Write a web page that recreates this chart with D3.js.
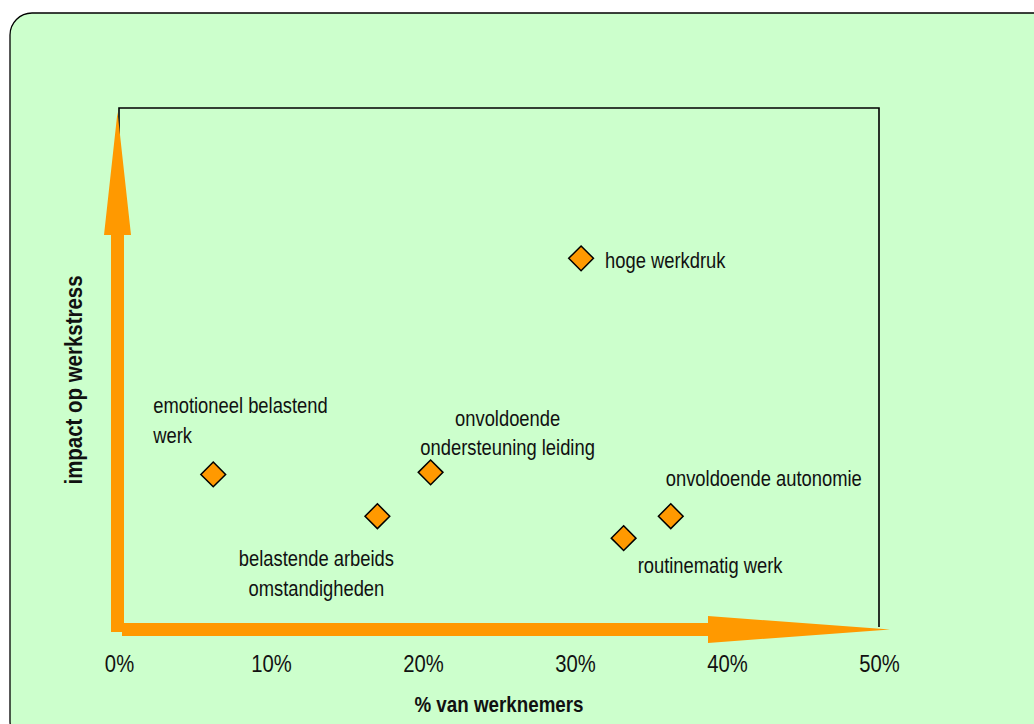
<!DOCTYPE html>
<html>
<head>
<meta charset="utf-8">
<script src="https://cdn.jsdelivr.net/npm/d3@7"></script>
<style>
  html, body { margin: 0; padding: 0; background: #ffffff; }
  svg { display: block; }
</style>
</head>
<body>
<svg id="chart" width="1034" height="724"></svg>
<script>
// ---- data ----
const categories = [
  "hoge werkdruk",
  "emotioneel belastend werk",
  "belastende arbeids omstandigheden",
  "onvoldoende ondersteuning leiding",
  "onvoldoende autonomie",
  "routinematig werk"
];
const pctWerknemers = [30.4, 6.2, 17.0, 20.5, 36.3, 33.2];   // % van werknemers
const impactWerkstress = [3.56, 1.49, 1.09, 1.51, 1.09, 0.88]; // relative impact (no scale shown)
const labelLines = [
  ["hoge werkdruk"],
  ["emotioneel belastend", "werk"],
  ["belastende arbeids", "omstandigheden"],
  ["onvoldoende", "ondersteuning leiding"],
  ["onvoldoende autonomie"],
  ["routinematig werk"]
];
const xTickValues = [0, 10, 20, 30, 40, 50];
const xTickLabels = ["0%", "10%", "20%", "30%", "40%", "50%"];
const xTitle = "% van werknemers";
const yTitle = "impact op werkstress";

// ---- label placement (layout, relative to the marker) ----
const labelPlacement = [
  { anchor: "start",  dx: 24,  dy: [10] },
  { anchor: "start",  dx: -60, dy: [-61, -31] },
  { anchor: "middle", dx: -61, dy: [50, 80] },
  { anchor: "middle", dx: 77,  dy: [-46, -17] },
  { anchor: "start",  dx: -5,  dy: [-30] },
  { anchor: "start",  dx: 14,  dy: [35] }
];

const FONT = "'Liberation Sans', Arial, sans-serif";
const SX = 0.835;       // horizontal condensing, imitating a narrow face
const fsLabel = 22;
const fsTick = 23;
const fsXTitle = 22.5;
const fsYTitle = 24.5;

const svg = d3.select("#chart");
const orange = "#FF9900";

// outer rounded panel
svg.append("rect")
  .attr("x", 10).attr("y", 13)
  .attr("width", 1045).attr("height", 730)
  .attr("rx", 22).attr("ry", 22)
  .attr("fill", "#CCFFCC")
  .attr("stroke", "#000").attr("stroke-width", 1.3);

const x = d3.scaleLinear().domain([0, 50]).range([119, 879]);
const y = d3.scaleLinear().domain([0, 5]).range([630, 108]);

// plot frame
svg.append("path")
  .attr("d", `M${x(0)},${y(0)} L${x(0)},${y(5)} L${x(50)},${y(5)} L${x(50)},${y(0) - 3}`)
  .attr("fill", "none").attr("stroke", "#000").attr("stroke-width", 1.6);

// axes arrows (orange)
const sw = 6.5; // half shaft width
const hw = 13.5; // half head width
const vx = x(0) - 1.5;
svg.append("path")
  .attr("d", `M${vx - sw},${y(0) + 2} L${vx - sw},${y(0) - 395} L${vx - hw},${y(0) - 395}
              L${vx},${y(5) + 4} L${vx + hw},${y(0) - 395} L${vx + sw},${y(0) - 395} L${vx + sw},${y(0) + 2} Z`)
  .attr("fill", orange);
const hy = y(0) - 0.5;
svg.append("path")
  .attr("d", `M${x(0) + 3},${hy - sw} L${708},${hy - sw} L${708},${hy - hw}
              L${x(50) + 11},${hy} L${708},${hy + hw} L${708},${hy + sw} L${x(0) + 3},${hy + sw} Z`)
  .attr("fill", orange);

// x tick labels
const xAxis = d3.axisBottom(x).tickValues(xTickValues)
  .tickFormat((d, i) => xTickLabels[i]).tickSize(0).tickPadding(0);
const gx = svg.append("g").attr("transform", `translate(0,672)`).call(xAxis);
gx.select(".domain").remove();
gx.selectAll("text")
  .attr("font-family", FONT).attr("font-size", fsTick).attr("fill", "#111")
  .attr("dy", null).attr("y", 0)
  .attr("transform", `scale(0.88,1)`);

// markers
const pts = categories.map((c, i) => ({ c, px: x(pctWerknemers[i]), py: y(impactWerkstress[i]), i }));
const sym = d3.symbol().type(d3.symbolDiamond2).size(390);
svg.append("g").selectAll("path").data(pts).join("path")
  .attr("d", sym)
  .attr("transform", d => `translate(${d.px},${d.py})`)
  .attr("fill", orange).attr("stroke", "#000").attr("stroke-width", 1.5);

// labels
const lg = svg.append("g").attr("font-family", FONT).attr("font-size", fsLabel).attr("fill", "#111");
pts.forEach(d => {
  const pl = labelPlacement[d.i];
  labelLines[d.i].forEach((line, k) => {
    lg.append("text")
      .attr("transform", `translate(${d.px + pl.dx},${d.py + pl.dy[k]}) scale(${SX},1)`)
      .attr("text-anchor", pl.anchor)
      .text(line);
  });
});

// axis titles
svg.append("text")
  .attr("transform", `translate(499,712) scale(${SX},1)`)
  .attr("text-anchor", "middle")
  .attr("font-family", FONT).attr("font-weight", "bold").attr("font-size", fsXTitle)
  .attr("fill", "#111")
  .text(xTitle);
svg.append("text")
  .attr("transform", `translate(82,380) rotate(-90) scale(${SX},1)`)
  .attr("text-anchor", "middle")
  .attr("font-family", FONT).attr("font-weight", "bold").attr("font-size", fsYTitle)
  .attr("fill", "#111")
  .text(yTitle);
</script>
</body>
</html>
